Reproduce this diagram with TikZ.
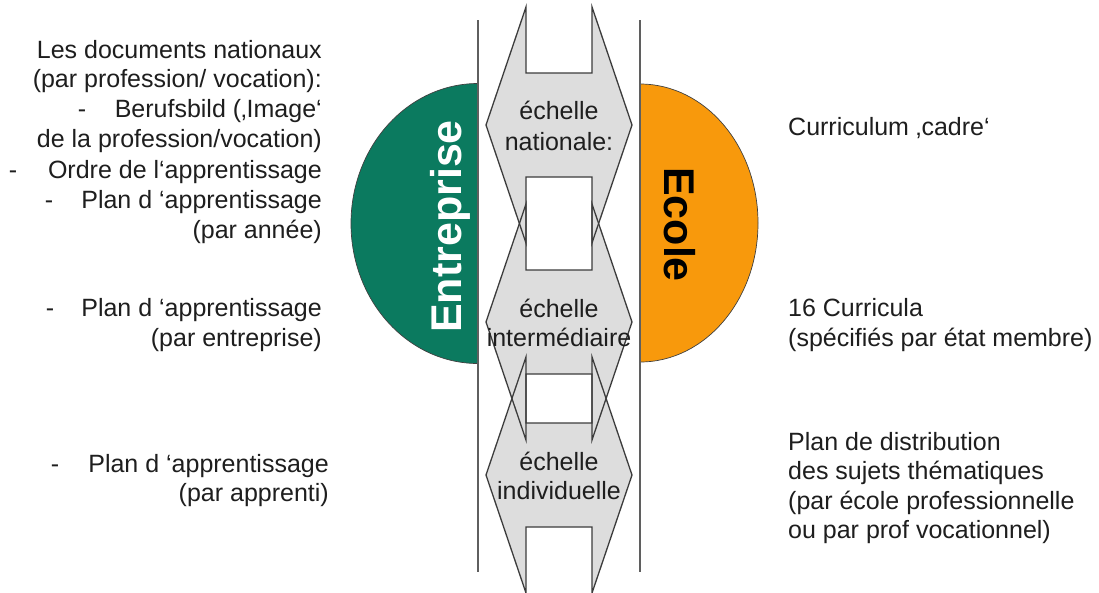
\documentclass[tikz,border=0pt]{standalone}
\usepackage{fontspec}
\setmainfont{Liberation Sans}
\definecolor{entgreen}{RGB}{11,122,95}
\definecolor{ecoorange}{RGB}{248,153,12}
\definecolor{shapegray}{RGB}{221,221,221}
\definecolor{edgegray}{RGB}{60,60,60}
\definecolor{linegray}{RGB}{95,95,95}
\definecolor{txt}{RGB}{30,30,30}
\tikzset{
  lbl/.style={font=\fontsize{25}{30}\selectfont, text=txt, inner sep=0pt},
  lefttxt/.style={lbl, anchor=base east},
  righttxt/.style={lbl, anchor=base west},
  midtxt/.style={lbl, anchor=base},
  dashtxt/.style={lbl, anchor=base},
  bigtxt/.style={font=\fontsize{43}{43}\selectfont\bfseries, inner sep=0pt, anchor=base},
  halfdisk/.style={draw=black!75, line width=0.7pt},
  echedge/.style={draw=edgegray, line width=1.3pt, line join=miter},
  sepline/.style={draw=linegray, line width=1.3pt}
}
\begin{document}
\begin{tikzpicture}[x=1pt,y=-1pt]
\useasboundingbox (0,0) rectangle (1099,592);
\fill[white] (0,0) rectangle (1099,592);

% half disks
\path[halfdisk, fill=entgreen] (478,83.5) arc[start angle=-90, end angle=-270, x radius=127, y radius=140] -- cycle;
\path[halfdisk, fill=ecoorange] (640,84) arc[start angle=-90, end angle=90, x radius=118, y radius=139] -- cycle;

% separator lines
\coordinate (la) at (478,20); \coordinate (lb) at (478,572);
\coordinate (ra) at (640,20); \coordinate (rb) at (640,572);
\draw[sepline] (la) -- (lb);
\draw[sepline] (ra) -- (rb);

% scale shapes: fills first, then outlines
\foreach \cy in {125,322,475}
  \fill[shapegray] (526,\cy-118) -- (526,\cy-52) -- (592,\cy-52) -- (592,\cy-118) -- (632,\cy) -- (592,\cy+118) -- (592,\cy+52) -- (526,\cy+52) -- (526,\cy+118) -- (486,\cy) -- cycle;
\foreach \cy in {125,322,475}
  \draw[echedge] (526,\cy-118) -- (526,\cy-52) -- (592,\cy-52) -- (592,\cy-118) -- (632,\cy) -- (592,\cy+118) -- (592,\cy+52) -- (526,\cy+52) -- (526,\cy+118) -- (486,\cy) -- cycle;

% rotated labels
\node[bigtxt, text=white, rotate=90] (ent) at (461,226.5) {Entreprise};
\node[bigtxt, text=black, rotate=-90] (eco) at (664,224.5) {Ecole};

% center texts
\node[midtxt] (n1) at (559,119) {échelle};
\node[midtxt] (n2) at (559,150) {nationale:};
\node[midtxt] (i1) at (559,317) {échelle};
\node[midtxt] (i2) at (559,346) {intermédiaire};
\node[midtxt] (v1) at (559,470) {échelle};
\node[midtxt] (v2) at (559,499) {individuelle};

% left texts
\node[lefttxt] (l1) at (322,58) {Les documents nationaux};
\node[lefttxt] (l2) at (322,87) {(par profession/ vocation):};
\node[dashtxt] (d1) at (82,117) {-};
\node[lefttxt] (l3) at (322,117) {Berufsbild (‚Image‘};
\node[lefttxt] (l4) at (322,147) {de la profession/vocation)};
\node[dashtxt] (d2) at (13,178) {-};
\node[lefttxt] (l5) at (322,178) {Ordre de l‘apprentissage};
\node[dashtxt] (d3) at (49,208) {-};
\node[lefttxt] (l6) at (322,208) {Plan d ‘apprentissage};
\node[lefttxt] (l7) at (322,238) {(par année)};
\node[dashtxt] (d4) at (50,316) {-};
\node[lefttxt] (l8) at (322,316) {Plan d ‘apprentissage};
\node[lefttxt] (l9) at (322,346) {(par entreprise)};
\node[dashtxt] (d5) at (55,472) {-};
\node[lefttxt] (l10) at (329,472) {Plan d ‘apprentissage};
\node[lefttxt] (l11) at (329,501) {(par apprenti)};

% right texts
\node[righttxt] (r1) at (788,135) {Curriculum ‚cadre‘};
\node[righttxt] (r2) at (788,316) {16 Curricula};
\node[righttxt] (r3) at (788,346) {(spécifiés par état membre)};
\node[righttxt] (r4) at (788,450) {Plan de distribution};
\node[righttxt] (r5) at (788,479) {des sujets thématiques};
\node[righttxt] (r6) at (788,509) {(par école professionnelle};
\node[righttxt] (r7) at (788,538) {ou par prof vocationnel)};
\end{tikzpicture}
\end{document}
